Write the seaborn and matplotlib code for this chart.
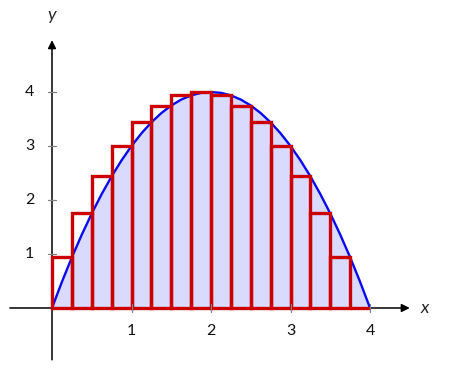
import matplotlib
matplotlib.use("Agg")
import matplotlib.pyplot as plt
import seaborn as sns
import pandas as pd

# Curve samples y = f(x)
curve_x = [0, 0.125, 0.25, 0.375, 0.5, 0.625, 0.75, 0.875, 1, 1.125, 1.25, 1.375, 1.5,
           1.625, 1.75, 1.875, 2, 2.125, 2.25, 2.375, 2.5, 2.625, 2.75, 2.875, 3,
           3.125, 3.25, 3.375, 3.5, 3.625, 3.75, 3.875, 4]
curve_y = [0, 0.484375, 0.9375, 1.359375, 1.75, 2.109375, 2.4375, 2.734375, 3, 3.234375,
           3.4375, 3.609375, 3.75, 3.859375, 3.9375, 3.984375, 4, 3.984375, 3.9375,
           3.859375, 3.75, 3.609375, 3.4375, 3.234375, 3, 2.734375, 2.4375, 2.109375,
           1.75, 1.359375, 0.9375, 0.484375, 0]

# Rectangles (left edges, heights)
rect_left = [0, 0.25, 0.5, 0.75, 1, 1.25, 1.5, 1.75, 2, 2.25, 2.5, 2.75, 3, 3.25, 3.5, 3.75]
rect_h = [0.9375, 1.75, 2.4375, 3, 3.4375, 3.75, 3.9375, 4, 3.9375, 3.75, 3.4375, 3,
          2.4375, 1.75, 0.9375, 0]
rect_w = 0.25

xticks = [1, 2, 3, 4]
yticks = [1, 2, 3, 4]

sns.set_theme(style="white")
plt.rcParams['font.family'] = ['Lato', 'DejaVu Sans']

fig = plt.figure(figsize=(4.52, 3.75), dpi=100)
ax = fig.add_axes([0, 0, 1, 1])
ax.set_xlim(-0.654, 5.031)
ax.set_ylim(-1.241, 5.704)
ax.axis('off')

df = pd.DataFrame({'x': curve_x, 'y': curve_y})
ax.fill_between(df['x'], 0, df['y'], color='#dadaff', lw=0, zorder=1)
sns.lineplot(data=df, x='x', y='y', color='#0a0af0', lw=1.7, ax=ax, zorder=3)

ax.bar(rect_left, rect_h, width=rect_w, align='edge', fill=False,
       edgecolor='#cc0000', linewidth=2.4, zorder=4)

# axes with arrows
ax.annotate('', xy=(4.5, 0), xytext=(-0.53, 0),
            arrowprops=dict(arrowstyle='-|>', color='black', lw=1.1,
                            mutation_scale=12, shrinkA=0, shrinkB=0), zorder=2)
ax.annotate('', xy=(0, 4.96), xytext=(0, -0.96),
            arrowprops=dict(arrowstyle='-|>', color='black', lw=1.1,
                            mutation_scale=12, shrinkA=0, shrinkB=0), zorder=2)

for t in xticks:
    ax.plot([t, t], [-0.08, 0.08], color='grey', lw=0.9, zorder=5)
    ax.text(t, -0.43, str(t), ha='center', va='center', fontsize=11.5, color='#111111')
for t in yticks:
    ax.plot([-0.053, 0.053], [t, t], color='grey', lw=0.9, zorder=5)
    ax.text(-0.28, t, str(t), ha='center', va='center', fontsize=11.5, color='#111111')

ax.text(4.69, 0, 'x', ha='center', va='center', fontsize=13, style='italic')
ax.text(0, 5.42, 'y', ha='center', va='center', fontsize=13, style='italic')

fig.savefig('out.png', dpi=100)
